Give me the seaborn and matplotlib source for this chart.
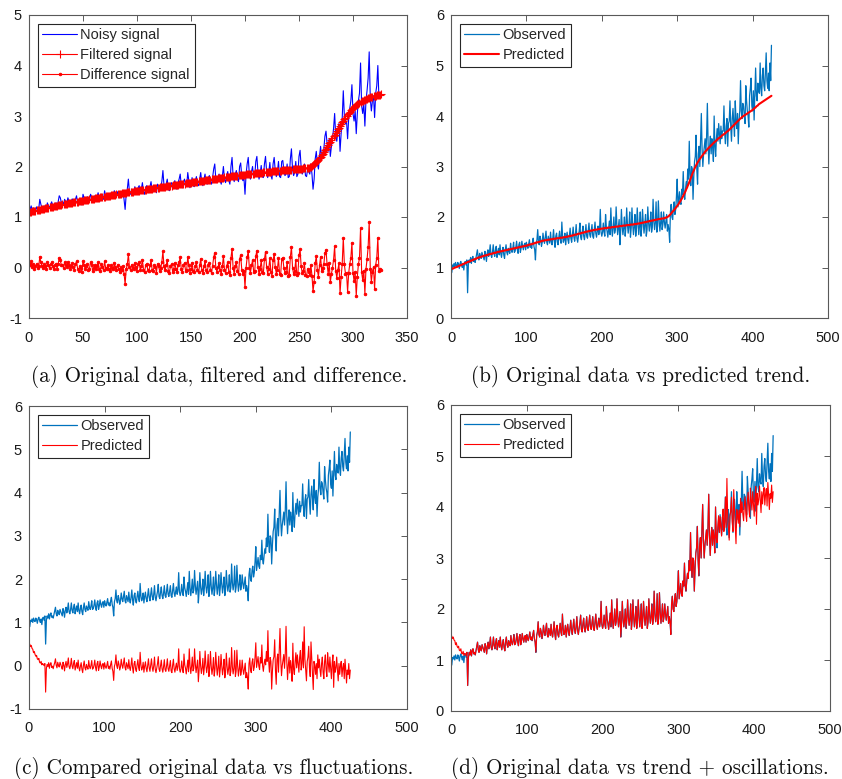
import numpy as np
import pandas as pd
import matplotlib
matplotlib.use("Agg")
import matplotlib.pyplot as plt
import seaborn as sns

# ---------------------------------------------------------------------------
# Panel (a): noisy series, its filtered version (difference is derived)
# ---------------------------------------------------------------------------
noisy_a = [
    1.15, 1.22, 1.12, 1.18, 1.10, 1.14, 1.20, 1.12, 1.16, 1.35,
    1.25, 1.18, 1.15, 1.22, 1.20, 1.14, 1.28, 1.22, 1.18, 1.25,
    1.30, 1.22, 1.18, 1.25, 1.28, 1.20, 1.30, 1.42, 1.38, 1.28,
    1.30, 1.25, 1.35, 1.30, 1.27, 1.38, 1.32, 1.25, 1.30, 1.36,
    1.30, 1.25, 1.35, 1.42, 1.28, 1.25, 1.33, 1.30, 1.24, 1.45,
    1.38, 1.30, 1.35, 1.40, 1.30, 1.33, 1.45, 1.40, 1.30, 1.35,
    1.42, 1.35, 1.40, 1.48, 1.36, 1.32, 1.45, 1.40, 1.35, 1.52,
    1.40, 1.38, 1.45, 1.40, 1.35, 1.48, 1.42, 1.40, 1.52, 1.45,
    1.40, 1.50, 1.43, 1.38, 1.47, 1.42, 1.50, 1.35, 1.15, 1.45,
    1.55, 1.75, 1.50, 1.45, 1.55, 1.50, 1.48, 1.60, 1.52, 1.45,
    1.58, 1.62, 1.48, 1.55, 1.68, 1.50, 1.45, 1.58, 1.62, 1.50,
    1.48, 1.60, 1.70, 1.52, 1.50, 1.62, 1.58, 1.48, 1.65, 1.60,
    1.52, 1.58, 1.70, 1.92, 1.62, 1.55, 1.65, 1.75, 1.55, 1.52,
    1.65, 1.68, 1.55, 1.60, 1.72, 1.62, 1.55, 1.68, 1.75, 1.85,
    1.62, 1.58, 1.70, 1.75, 1.60, 1.62, 1.88, 1.72, 1.58, 1.65,
    1.78, 1.62, 1.60, 1.72, 1.80, 1.65, 1.62, 1.75, 1.88, 1.68,
    1.62, 1.75, 1.85, 1.68, 1.65, 1.78, 1.82, 1.70, 1.65, 1.78,
    1.95, 2.05, 1.75, 1.68, 1.78, 1.85, 1.72, 1.65, 1.80, 2.00,
    1.75, 1.68, 1.82, 1.90, 1.72, 1.65, 2.00, 2.18, 1.80, 1.70,
    1.85, 1.92, 1.75, 1.70, 2.00, 2.07, 1.80, 1.72, 1.78, 1.45,
    1.85, 2.05, 2.18, 1.85, 1.75, 1.90, 2.00, 1.78, 1.80, 2.10,
    2.20, 1.88, 1.75, 1.85, 2.02, 1.80, 1.78, 2.05, 2.20, 1.90,
    1.78, 1.88, 2.08, 1.82, 1.75, 2.05, 2.18, 1.92, 1.80, 1.88,
    2.10, 1.80, 1.78, 2.10, 2.12, 1.92, 1.82, 1.85, 2.05, 1.78,
    1.80, 2.15, 2.35, 1.95, 1.82, 1.88, 2.10, 1.80, 1.85, 2.20,
    2.32, 1.98, 1.85, 1.90, 2.05, 1.82, 1.80, 1.95, 1.90, 1.85,
    2.05, 1.85, 1.55, 1.75, 2.15, 2.30, 2.05, 1.95, 2.20, 2.40,
    2.15, 2.25, 2.35, 2.60, 2.70, 2.45, 2.30, 2.55, 2.20, 2.40,
    2.55, 2.75, 3.05, 2.60, 2.50, 2.70, 2.85, 2.30, 2.65, 2.95,
    3.50, 3.00, 2.85, 2.90, 2.55, 2.95, 3.15, 3.30, 3.62, 3.05,
    2.90, 3.10, 2.65, 3.05, 3.30, 3.45, 4.05, 3.20, 3.05, 3.25,
    2.80, 3.30, 3.50, 3.75, 4.27, 3.35, 3.10, 3.30, 3.40, 2.97,
    3.45, 3.60, 4.00, 3.35, 3.40, 3.38,
]

filtered_a = [
    1.10, 1.10, 1.11, 1.11, 1.12, 1.12, 1.13, 1.13, 1.14, 1.14,
    1.15, 1.15, 1.16, 1.16, 1.17, 1.17, 1.18, 1.18, 1.19, 1.19,
    1.20, 1.20, 1.21, 1.21, 1.22, 1.22, 1.23, 1.23, 1.24, 1.24,
    1.25, 1.25, 1.25, 1.26, 1.26, 1.27, 1.27, 1.27, 1.28, 1.28,
    1.29, 1.29, 1.29, 1.30, 1.30, 1.31, 1.31, 1.31, 1.32, 1.32,
    1.33, 1.33, 1.33, 1.34, 1.34, 1.35, 1.35, 1.35, 1.36, 1.36,
    1.37, 1.37, 1.37, 1.38, 1.38, 1.39, 1.39, 1.39, 1.40, 1.40,
    1.41, 1.41, 1.41, 1.42, 1.42, 1.43, 1.43, 1.43, 1.44, 1.44,
    1.45, 1.45, 1.45, 1.46, 1.46, 1.47, 1.47, 1.47, 1.48, 1.48,
    1.49, 1.49, 1.49, 1.50, 1.50, 1.50, 1.51, 1.51, 1.51, 1.52,
    1.52, 1.52, 1.53, 1.53, 1.53, 1.54, 1.54, 1.54, 1.55, 1.55,
    1.55, 1.56, 1.56, 1.56, 1.57, 1.57, 1.57, 1.58, 1.58, 1.58,
    1.59, 1.59, 1.59, 1.60, 1.60, 1.60, 1.61, 1.61, 1.61, 1.62,
    1.62, 1.62, 1.63, 1.63, 1.63, 1.64, 1.64, 1.64, 1.65, 1.65,
    1.65, 1.66, 1.66, 1.66, 1.67, 1.67, 1.67, 1.68, 1.68, 1.68,
    1.69, 1.69, 1.69, 1.70, 1.70, 1.70, 1.71, 1.71, 1.71, 1.72,
    1.72, 1.72, 1.73, 1.73, 1.73, 1.74, 1.74, 1.74, 1.75, 1.75,
    1.75, 1.76, 1.76, 1.76, 1.77, 1.77, 1.77, 1.78, 1.78, 1.78,
    1.79, 1.79, 1.79, 1.80, 1.80, 1.80, 1.81, 1.81, 1.81, 1.82,
    1.82, 1.82, 1.82, 1.83, 1.83, 1.83, 1.84, 1.84, 1.84, 1.84,
    1.85, 1.85, 1.85, 1.85, 1.86, 1.86, 1.86, 1.86, 1.87, 1.87,
    1.87, 1.87, 1.88, 1.88, 1.88, 1.88, 1.89, 1.89, 1.89, 1.89,
    1.90, 1.90, 1.90, 1.90, 1.91, 1.91, 1.91, 1.91, 1.92, 1.92,
    1.92, 1.92, 1.92, 1.93, 1.93, 1.93, 1.93, 1.93, 1.94, 1.94,
    1.94, 1.94, 1.94, 1.95, 1.95, 1.95, 1.95, 1.95, 1.96, 1.96,
    1.96, 1.96, 1.96, 1.97, 1.97, 1.97, 1.97, 1.98, 1.98, 1.99,
    2.00, 2.01, 2.02, 2.04, 2.06, 2.08, 2.10, 2.13, 2.16, 2.19,
    2.22, 2.25, 2.28, 2.32, 2.35, 2.39, 2.42, 2.46, 2.49, 2.53,
    2.56, 2.60, 2.63, 2.67, 2.70, 2.74, 2.77, 2.81, 2.84, 2.88,
    2.91, 2.94, 2.97, 3.00, 3.03, 3.06, 3.08, 3.11, 3.13, 3.15,
    3.17, 3.19, 3.21, 3.23, 3.24, 3.26, 3.27, 3.29, 3.30, 3.31,
    3.32, 3.33, 3.34, 3.35, 3.36, 3.37, 3.38, 3.38, 3.39, 3.40,
    3.40, 3.41, 3.41, 3.42, 3.42, 3.43,
]

# ---------------------------------------------------------------------------
# Panels (b)-(d): observed series and fitted trend
# ---------------------------------------------------------------------------
observed = [
    0.90, 1.05, 1.02, 1.08, 1.00, 1.10, 1.04, 1.02, 1.10, 1.06,
    0.98, 1.08, 1.12, 1.05, 1.00, 1.08, 0.95, 1.10, 1.12, 1.05,
    1.15, 0.50, 1.05, 1.15, 1.10, 1.20, 1.08, 1.18, 1.22, 1.12,
    1.15, 1.10, 1.18, 1.25, 1.35, 1.20, 1.15, 1.28, 1.22, 1.18,
    1.30, 1.25, 1.20, 1.15, 1.32, 1.25, 1.12, 1.28, 1.35, 1.22,
    1.30, 1.45, 1.25, 1.20, 1.30, 1.45, 1.28, 1.22, 1.35, 1.42,
    1.20, 1.30, 1.38, 1.25, 1.45, 1.28, 1.20, 1.32, 1.40, 1.25,
    1.18, 1.35, 1.45, 1.30, 1.25, 1.38, 1.32, 1.28, 1.48, 1.35,
    1.30, 1.38, 1.50, 1.30, 1.32, 1.40, 1.52, 1.35, 1.28, 1.45,
    1.50, 1.30, 1.38, 1.52, 1.42, 1.35, 1.45, 1.48, 1.35, 1.50,
    1.42, 1.38, 1.46, 1.55, 1.40, 1.45, 1.38, 1.50, 1.58, 1.42,
    1.35, 1.15, 1.48, 1.55, 1.75, 1.50, 1.45, 1.62, 1.55, 1.42,
    1.50, 1.68, 1.55, 1.48, 1.60, 1.72, 1.50, 1.45, 1.62, 1.55,
    1.48, 1.70, 1.52, 1.45, 1.58, 1.75, 1.52, 1.40, 1.62, 1.68,
    1.50, 1.45, 1.60, 1.72, 1.55, 1.48, 1.90, 1.62, 1.50, 1.55,
    1.68, 1.45, 1.60, 1.70, 1.55, 1.48, 1.62, 1.78, 1.58, 1.50,
    1.65, 1.80, 1.60, 1.52, 1.65, 1.85, 1.58, 1.50, 1.62, 1.72,
    1.88, 1.60, 1.55, 1.70, 1.82, 1.62, 1.55, 1.68, 1.85, 1.62,
    1.58, 1.72, 1.88, 1.65, 1.60, 1.72, 1.85, 1.62, 1.58, 1.75,
    1.90, 1.68, 1.60, 1.72, 1.82, 1.65, 1.75, 2.15, 1.70, 1.62,
    1.70, 1.88, 1.70, 1.62, 2.05, 1.80, 1.72, 1.60, 1.75, 1.92,
    1.65, 2.18, 1.80, 1.62, 1.78, 2.00, 1.68, 1.75, 2.20, 1.85,
    1.65, 1.80, 1.95, 1.45, 1.72, 2.15, 1.82, 1.65, 1.78, 2.00,
    1.62, 1.80, 2.18, 1.85, 1.68, 1.82, 2.10, 1.60, 1.78, 2.18,
    1.85, 1.65, 1.80, 2.05, 1.62, 1.78, 2.18, 1.88, 1.65, 1.82,
    2.10, 1.62, 1.80, 2.15, 1.88, 1.68, 1.85, 2.05, 1.62, 1.75,
    2.20, 1.90, 1.72, 1.85, 2.10, 1.70, 1.80, 2.35, 1.92, 1.75,
    1.88, 2.30, 1.70, 1.82, 2.32, 1.95, 1.72, 1.88, 2.10, 1.75,
    1.85, 2.10, 1.90, 1.78, 1.92, 2.05, 1.72, 1.85, 1.75, 1.50,
    2.10, 2.25, 2.00, 1.95, 2.20, 2.30, 2.05, 2.15, 2.40, 2.75,
    2.20, 2.35, 2.50, 2.30, 2.25, 2.55, 2.45, 2.90, 2.45, 2.35,
    2.55, 2.70, 2.60, 2.95, 2.75, 3.50, 2.85, 2.62, 3.00, 2.95,
    2.35, 2.80, 3.10, 3.20, 3.62, 2.95, 2.65, 3.25, 3.40, 3.00,
    3.50, 4.05, 3.35, 3.00, 3.25, 3.40, 3.55, 3.25, 3.60, 4.25,
    3.45, 3.05, 3.40, 3.60, 3.25, 3.55, 3.40, 3.10, 4.00, 3.40,
    3.20, 3.55, 3.75, 3.50, 3.85, 3.65, 3.45, 3.80, 3.55, 3.70,
    3.70, 4.20, 3.65, 3.45, 3.80, 3.95, 3.40, 3.85, 3.90, 4.30,
    3.80, 3.50, 3.95, 4.15, 3.85, 3.60, 4.30, 3.90, 3.75, 4.05,
    3.45, 3.90, 4.10, 4.70, 4.10, 3.95, 4.25, 4.20, 4.00, 3.85,
    4.60, 4.30, 4.10, 4.00, 3.78, 4.40, 4.55, 4.75, 4.20, 4.10,
    4.50, 3.92, 4.40, 4.95, 4.40, 4.30, 4.65, 4.50, 4.45, 5.05,
    4.55, 4.40, 4.80, 4.95, 4.60, 4.50, 4.85, 5.25, 4.70, 4.55,
    4.85, 4.50, 5.05, 4.70, 5.40,
]

trend = [
    0.97, 0.98, 0.98, 0.99, 1.00, 1.00, 1.01, 1.01, 1.02, 1.03,
    1.03, 1.04, 1.05, 1.05, 1.06, 1.07, 1.07, 1.08, 1.09, 1.09,
    1.10, 1.11, 1.11, 1.12, 1.12, 1.13, 1.14, 1.14, 1.15, 1.16,
    1.16, 1.17, 1.17, 1.18, 1.19, 1.19, 1.20, 1.20, 1.21, 1.21,
    1.22, 1.22, 1.23, 1.23, 1.24, 1.24, 1.24, 1.25, 1.25, 1.26,
    1.26, 1.27, 1.27, 1.27, 1.28, 1.28, 1.29, 1.29, 1.29, 1.30,
    1.30, 1.31, 1.31, 1.31, 1.32, 1.32, 1.32, 1.33, 1.33, 1.33,
    1.34, 1.34, 1.34, 1.35, 1.35, 1.35, 1.36, 1.36, 1.36, 1.37,
    1.37, 1.37, 1.38, 1.38, 1.38, 1.39, 1.39, 1.39, 1.40, 1.40,
    1.40, 1.41, 1.41, 1.41, 1.42, 1.42, 1.42, 1.43, 1.43, 1.43,
    1.44, 1.44, 1.45, 1.45, 1.46, 1.46, 1.46, 1.47, 1.47, 1.48,
    1.48, 1.49, 1.49, 1.50, 1.50, 1.50, 1.51, 1.51, 1.52, 1.52,
    1.53, 1.53, 1.53, 1.54, 1.54, 1.54, 1.54, 1.55, 1.55, 1.55,
    1.55, 1.56, 1.56, 1.56, 1.56, 1.57, 1.57, 1.57, 1.57, 1.58,
    1.58, 1.58, 1.58, 1.58, 1.59, 1.59, 1.59, 1.59, 1.60, 1.60,
    1.60, 1.60, 1.61, 1.61, 1.61, 1.62, 1.62, 1.62, 1.63, 1.63,
    1.63, 1.64, 1.64, 1.65, 1.65, 1.65, 1.66, 1.66, 1.67, 1.67,
    1.67, 1.68, 1.68, 1.69, 1.69, 1.69, 1.70, 1.70, 1.71, 1.71,
    1.71, 1.72, 1.72, 1.72, 1.73, 1.73, 1.73, 1.74, 1.74, 1.74,
    1.75, 1.75, 1.75, 1.75, 1.76, 1.76, 1.76, 1.76, 1.77, 1.77,
    1.77, 1.77, 1.78, 1.78, 1.78, 1.78, 1.78, 1.79, 1.79, 1.79,
    1.79, 1.79, 1.80, 1.80, 1.80, 1.80, 1.80, 1.81, 1.81, 1.81,
    1.81, 1.81, 1.82, 1.82, 1.82, 1.82, 1.82, 1.83, 1.83, 1.83,
    1.83, 1.83, 1.84, 1.84, 1.84, 1.84, 1.84, 1.85, 1.85, 1.85,
    1.85, 1.85, 1.86, 1.86, 1.86, 1.86, 1.87, 1.87, 1.87, 1.87,
    1.88, 1.88, 1.88, 1.89, 1.89, 1.89, 1.90, 1.90, 1.90, 1.91,
    1.91, 1.91, 1.92, 1.92, 1.92, 1.93, 1.93, 1.93, 1.94, 1.94,
    1.94, 1.95, 1.95, 1.95, 1.96, 1.96, 1.96, 1.96, 1.97, 1.97,
    1.97, 1.97, 1.98, 1.98, 1.99, 1.99, 2.00, 2.01, 2.02, 2.04,
    2.05, 2.07, 2.09, 2.11, 2.12, 2.14, 2.16, 2.18, 2.20, 2.22,
    2.24, 2.26, 2.29, 2.31, 2.34, 2.36, 2.39, 2.42, 2.45, 2.48,
    2.51, 2.55, 2.58, 2.62, 2.65, 2.69, 2.73, 2.77, 2.81, 2.85,
    2.89, 2.92, 2.96, 2.99, 3.02, 3.05, 3.08, 3.10, 3.13, 3.15,
    3.17, 3.19, 3.21, 3.23, 3.25, 3.27, 3.29, 3.31, 3.32, 3.34,
    3.36, 3.37, 3.39, 3.40, 3.42, 3.43, 3.45, 3.46, 3.48, 3.49,
    3.50, 3.52, 3.53, 3.55, 3.56, 3.57, 3.58, 3.59, 3.61, 3.62,
    3.63, 3.64, 3.65, 3.66, 3.68, 3.69, 3.70, 3.71, 3.73, 3.74,
    3.76, 3.77, 3.79, 3.80, 3.82, 3.83, 3.85, 3.86, 3.88, 3.89,
    3.91, 3.92, 3.94, 3.95, 3.96, 3.98, 3.99, 4.00, 4.01, 4.02,
    4.03, 4.04, 4.05, 4.06, 4.07, 4.08, 4.09, 4.10, 4.11, 4.12,
    4.13, 4.15, 4.16, 4.17, 4.19, 4.20, 4.21, 4.23, 4.24, 4.25,
    4.26, 4.27, 4.28, 4.29, 4.30, 4.31, 4.32, 4.33, 4.34, 4.35,
    4.36, 4.37, 4.38, 4.39, 4.40,
]

# Oscillation component: warm-up at the start and forecast tail at the end;
# in between it equals observed minus trend.
osc_head = [
    0.50, 0.44, 0.47, 0.40, 0.38, 0.30, 0.33, 0.26, 0.22, 0.24,
    0.16, 0.14, 0.17, 0.08, 0.06, 0.10, 0.02, 0.05, 0.03, 0.00,
]
osc_tail = [
    -0.20, 0.10, 0.30, -0.05, 0.25, 0.05, -0.15, 0.20, 0.35, -0.10,
    0.05, 0.55, -0.05, 0.90, 0.15, -0.10, -0.35, 0.10, 0.20, 0.45,
    -0.05, -0.25, 0.55, 0.15, -0.20, -0.55, 0.10, 0.00, -0.20, 0.05,
    -0.30, 0.25, -0.05, 0.15, -0.10, -0.25, 0.05, 0.20, -0.15, -0.30,
    0.10, 0.25, -0.10, -0.25, 0.30, 0.05, -0.15, 0.20, -0.05, -0.30,
    0.05, 0.25, -0.50, 0.10, -0.15, -0.05, 0.20, -0.10, -0.35, 0.05,
    -0.20, 0.00, 0.10, -0.25, -0.05, 0.05, -0.30, 0.15, -0.10, -0.40,
    -0.10, -0.20, 0.05, -0.30, -0.10,
]

# ---------------------------------------------------------------------------
# Derived series
# ---------------------------------------------------------------------------
noisy_arr = np.asarray(noisy_a)
filt_arr = np.asarray(filtered_a)
diff_arr = noisy_arr - filt_arr
xa = np.arange(1, len(noisy_arr) + 1)

obs_arr = np.asarray(observed)
trend_arr = np.asarray(trend)
xb = np.arange(1, len(obs_arr) + 1)
n_head, n_tail = len(osc_head), len(osc_tail)
osc_mid = obs_arr[n_head:len(obs_arr) - n_tail] - trend_arr[n_head:len(obs_arr) - n_tail]
osc_arr = np.concatenate([osc_head, osc_mid, osc_tail])
recon_arr = trend_arr + osc_arr

# ---------------------------------------------------------------------------
# Style
# ---------------------------------------------------------------------------
sns.set_style("white")
plt.rcParams["font.family"] = ["Liberation Sans", "DejaVu Sans"]
plt.rcParams["axes.unicode_minus"] = False

BLUE = "#0000FF"
MBLUE = "#0072BD"
RED = "#FF0000"
AX_COLOR = "#595959"

W, H = 842, 779
fig = plt.figure(figsize=(W / 100, H / 100), dpi=100)


def add_axes(left, top, right, bottom):
    return fig.add_axes([left / W, 1 - bottom / H, (right - left) / W, (bottom - top) / H])


def style(ax, xlim, xticks, ylim, yticks):
    ax.set_xlim(*xlim)
    ax.set_ylim(*ylim)
    ax.set_xticks(xticks)
    ax.set_yticks(yticks)
    ax.set_xlabel("")
    ax.set_ylabel("")
    ax.grid(False)
    for sp in ax.spines.values():
        sp.set_visible(True)
        sp.set_color(AX_COLOR)
        sp.set_linewidth(0.8)
    ax.tick_params(direction="in", length=4, width=0.7, color=AX_COLOR,
                   labelcolor="#1a1a1a", labelsize=10.5, top=True, right=True)
    ax.tick_params(axis="x", pad=9)
    ax.tick_params(axis="y", pad=5)


def legend(ax):
    leg = ax.legend(loc="upper left", fontsize=10.5, frameon=True, fancybox=False,
                    framealpha=1, edgecolor="#262626", handlelength=2.4,
                    handletextpad=0.2, labelspacing=0.4, borderpad=0.32,
                    borderaxespad=0.6, numpoints=1)
    leg.get_frame().set_linewidth(0.8)


# (a) ----------------------------------------------------------------------
ax_a = add_axes(29, 15, 407, 318)
sns.lineplot(x=xa, y=noisy_arr, ax=ax_a, color=BLUE, lw=0.8,
             estimator=None, sort=False, label="Noisy signal")
sns.lineplot(x=xa, y=filt_arr, ax=ax_a, color=RED, lw=0.8, marker="+",
             markersize=6, markeredgewidth=0.8, markeredgecolor=RED,
             estimator=None, sort=False, label="Filtered signal")
sns.lineplot(x=xa, y=diff_arr, ax=ax_a, color=RED, lw=0.8, marker=".",
             markersize=3.5, markeredgecolor=RED,
             estimator=None, sort=False, label="Difference signal")
style(ax_a, (0, 350), range(0, 351, 50), (-1, 5), range(-1, 6))
legend(ax_a)

# (b) ----------------------------------------------------------------------
ax_b = add_axes(451, 15, 828, 318)
sns.lineplot(x=xb, y=obs_arr, ax=ax_b, color=MBLUE, lw=0.9,
             estimator=None, sort=False, label="Observed")
sns.lineplot(x=xb, y=trend_arr, ax=ax_b, color=RED, lw=1.5,
             estimator=None, sort=False, label="Predicted")
style(ax_b, (0, 500), range(0, 501, 100), (0, 6), range(0, 7))
legend(ax_b)

# (c) ----------------------------------------------------------------------
ax_c = add_axes(29, 406, 407, 709)
sns.lineplot(x=xb, y=obs_arr, ax=ax_c, color=MBLUE, lw=0.9,
             estimator=None, sort=False, label="Observed")
sns.lineplot(x=xb, y=osc_arr, ax=ax_c, color=RED, lw=0.8,
             estimator=None, sort=False, label="Predicted")
style(ax_c, (0, 500), range(0, 501, 100), (-1, 6), range(-1, 7))
legend(ax_c)

# (d) ----------------------------------------------------------------------
ax_d = add_axes(451, 405, 830, 711)
sns.lineplot(x=xb, y=obs_arr, ax=ax_d, color=MBLUE, lw=0.9,
             estimator=None, sort=False, label="Observed")
sns.lineplot(x=xb, y=recon_arr, ax=ax_d, color=RED, lw=0.8,
             estimator=None, sort=False, label="Predicted")
style(ax_d, (0, 500), range(0, 501, 100), (0, 6), range(0, 7))
legend(ax_d)

# Sub-figure captions ---------------------------------------------------------
cap_kw = dict(ha="center", va="center", fontsize=15.2, family="cmr10", color="#111111")
fig.text(219 / W, 1 - 377 / H, "(a) Original data, filtered and difference.", **cap_kw)
fig.text(641 / W, 1 - 377 / H, "(b) Original data vs predicted trend.", **cap_kw)
fig.text(214 / W, 1 - 769 / H, "(c) Compared original data vs fluctuations.", **cap_kw)
fig.text(640 / W, 1 - 769 / H, "(d) Original data vs trend + oscillations.", **cap_kw)

fig.savefig("out.png", dpi=100, facecolor="white")
